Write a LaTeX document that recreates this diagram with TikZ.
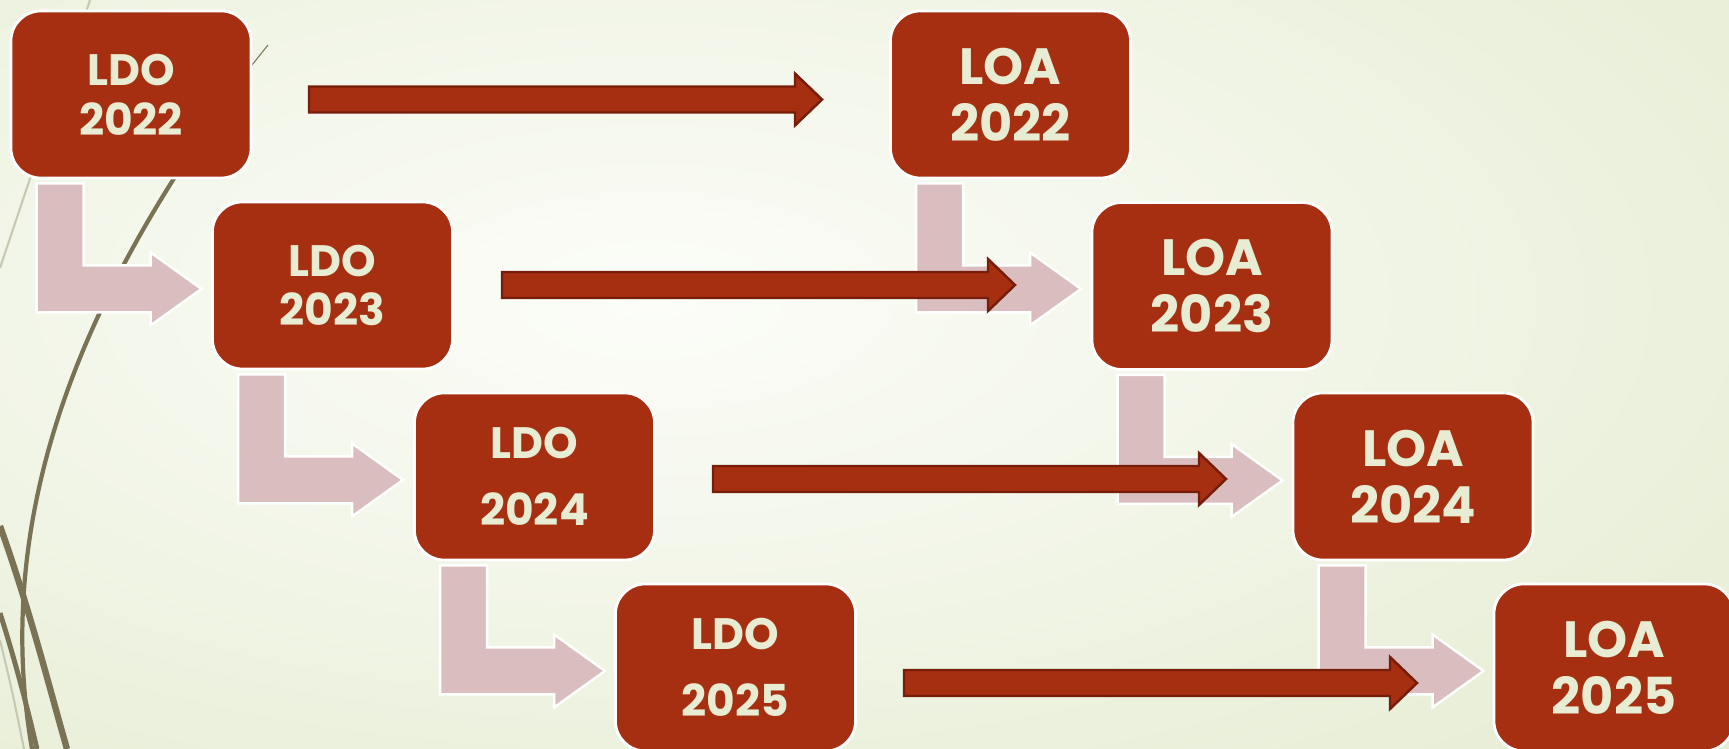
\documentclass[tikz,border=0pt]{standalone}
\usepackage{fontspec}
\setmainfont{Poppins}
\usepackage{xcolor}
\usepackage{tikz}
\usetikzlibrary{calc}

\definecolor{merah}{RGB}{166,47,17}
\definecolor{merahtua}{RGB}{118,30,10}
\definecolor{krem}{RGB}{232,236,210}
\definecolor{pink}{RGB}{218,190,191}
\definecolor{latardalam}{RGB}{252,253,249}
\definecolor{latarluar}{RGB}{221,230,196}
\definecolor{zaitun}{RGB}{122,114,84}
\definecolor{zaitunmuda}{RGB}{198,202,178}

% panah belok pink di bawah kotak
\newcommand{\panahbelok}[1]{%
  \filldraw[belok] ($(#1.south west)+(27,4)$) -- ++(47,0) -- ++(0,82) -- ++(67,0)
    -- ++(0,-13) -- ++(51,36.5) -- ++(-51,36.5) -- ++(0,-13) -- ++(-114,0) -- cycle;}
% panah merah dari titik ke titik
\newcommand{\panahmerah}[2]{%
  \filldraw[lurus] ($(#1)+(0,-13)$) -- ($(#2)+(-27,-13)$) -- ($(#2)+(-27,-26)$) -- (#2)
    -- ($(#2)+(-27,26)$) -- ($(#2)+(-27,13)$) -- ($(#1)+(0,13)$) -- cycle;}

\begin{document}
\begin{tikzpicture}[x=0.01cm, y=-0.01cm,
    kotak/.style={draw=white, line width=0.8pt, fill=merah, rounded corners=0.3cm,
      minimum width=2.4cm, minimum height=1.67cm, inner sep=0pt, align=center, text=krem},
    ldo/.style={kotak, font=\fontsize{12.5}{14.2}\selectfont\bfseries},
    loa/.style={kotak, font=\fontsize{14.5}{16.2}\selectfont\bfseries},
    belok/.style={fill=pink, draw=white, line width=0.7pt},
    lurus/.style={fill=merah, draw=merahtua, line width=0.7pt}]
        %LATAR
        \useasboundingbox (0,0) rectangle (1729,749);
        \clip (0,0) rectangle (1729,749);
        \shade[inner color=latardalam, outer color=latarluar] (-1350,-600) rectangle (2650,1200);
        %GARIS HIAS
        \draw[zaitunmuda, line width=0.6pt] (90,0) -- (0,268);
        \draw[zaitunmuda, line width=0.6pt] (0,640) .. controls (12,690) .. (24,749);
        \draw[zaitun, line width=0.3pt] (268,45) -- (240,80);
        \draw[zaitun, line width=1.2pt] (240,80) .. controls (150,210) and (-20,450) .. (32,749);
        \draw[zaitun, line width=1.8pt] (0,526) .. controls (30,610) and (50,690) .. (67,749);
        \draw[zaitun, line width=1.4pt] (0,613) .. controls (15,660) and (28,710) .. (37,749);
        %KOTAK LDO
        \node[ldo] (ldo22) at (131,94.5) {LDO\\2022};
        \node[ldo] (ldo23) at (332.5,285.5) {LDO\\2023};
        \node[ldo] (ldo24) at (534.5,476.5) {LDO\\[5pt]2024};
        \node[ldo] (ldo25) at (735.5,667.5) {LDO\\[5pt]2025};
        %KOTAK LOA
        \node[loa] (loa22) at (1010.5,94.5) {LOA\\2022};
        \node[loa] (loa23) at (1212,286) {LOA\\2023};
        \node[loa] (loa24) at (1413,476.5) {LOA\\2024};
        \node[loa] (loa25) at (1614,667.5) {LOA\\2025};
        %PANAH BELOK
        \panahbelok{ldo22}
        \panahbelok{ldo23}
        \panahbelok{ldo24}
        \panahbelok{loa22}
        \panahbelok{loa23}
        \panahbelok{loa24}
        %KOORDINAT PANAH MERAH
        \coordinate (a1) at (309,99.5);
        \coordinate (b1) at (822,99.5);
        \coordinate (a2) at (502,285);
        \coordinate (b2) at (1015,285);
        \coordinate (a3) at (713,479);
        \coordinate (b3) at (1226,479);
        \coordinate (a4) at (904,683);
        \coordinate (b4) at (1417,683);
        %PANAH MERAH
        \panahmerah{a1}{b1}
        \panahmerah{a2}{b2}
        \panahmerah{a3}{b3}
        \panahmerah{a4}{b4}
\end{tikzpicture}
\end{document}
